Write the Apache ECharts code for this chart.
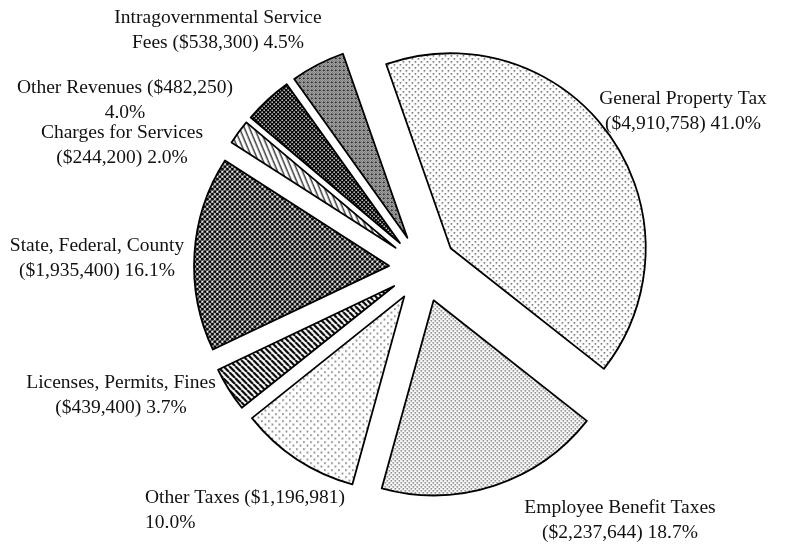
<!DOCTYPE html>
<html>
<head>
<meta charset="utf-8">
<script src="https://cdn.jsdelivr.net/npm/echarts@6/dist/echarts.min.js"></script>
<style>
html,body{margin:0;padding:0;background:#fff;}
#chart{width:786px;height:548px;}
</style>
</head>
<body>
<div id="chart"></div>
<script>
// ---- data ----
const categories = [
  'General Property Tax',
  'Employee Benefit Taxes',
  'Other Taxes',
  'Licenses, Permits, Fines',
  'State, Federal, County',
  'Charges for Services',
  'Other Revenues',
  'Intragovernmental Service\nFees'
];
const values = [4910758, 2237644, 1196981, 439400, 1935400, 244200, 482250, 538300];
// where the label wraps: 'name' = after the name, 'value' = after the amount
const wrapAfter = ['name', 'name', 'value', 'name', 'name', 'name', 'value', 'none'];

// ---- layout (not data) ----
const labelPos = [
  [683, 111, 'center'],
  [620, 520, 'center'],
  [145, 510, 'left'],
  [121, 395, 'center'],
  [97, 258, 'center'],
  [122, 145, 'center'],
  [125, 100, 'center'],
  [218, 30, 'center']
];

// ---- patterns ----
function tile(w, h, draw) {
  const c = document.createElement('canvas');
  c.width = w; c.height = h;
  const g = c.getContext('2d');
  g.fillStyle = '#fff'; g.fillRect(0, 0, w, h);
  g.fillStyle = '#000'; g.strokeStyle = '#000';
  draw(g, w, h);
  return { image: c, repeat: 'repeat' };
}
const sparseDots = tile(6, 6, g => { g.fillStyle = '#222'; g.fillRect(0, 0, 1.3, 1.3); g.fillRect(3, 3, 1.3, 1.3); });
const sparseDots2 = tile(7, 7, g => { g.fillStyle = '#222'; g.fillRect(0, 0, 1.3, 1.3); g.fillRect(3.5, 3.5, 1.3, 1.3); });
const denseDots = tile(4, 4, g => { g.fillStyle = '#222'; g.fillRect(0, 0, 1.2, 1.2); g.fillRect(2, 2, 1.2, 1.2); });
const backStripes = tile(6, 6, g => {
  g.lineWidth = 2.2;
  g.beginPath();
  g.moveTo(-6, 0); g.lineTo(0, 6);
  g.moveTo(0, 0); g.lineTo(6, 6);
  g.moveTo(6, 0); g.lineTo(12, 6);
  g.stroke();
});
const steepStripes = tile(5, 12, g => {
  g.lineWidth = 1.1;
  g.beginPath();
  g.moveTo(-5, 0); g.lineTo(0, 12);
  g.moveTo(0, 0); g.lineTo(5, 12);
  g.moveTo(5, 0); g.lineTo(10, 12);
  g.stroke();
});
const checkDots = tile(5, 5, g => {
  const r = 1.6;
  [[1.25,1.25],[3.75,3.75],[-1.25,3.75],[3.75,-1.25],[6.25,1.25],[1.25,6.25]].forEach(p => {
    g.beginPath(); g.arc(p[0], p[1], r, 0, Math.PI * 2); g.fill();
  });
});
const darkHoles = tile(4, 4, g => {
  g.fillRect(0, 0, 4, 4);
  g.fillStyle = '#fff';
  g.fillRect(0.5, 0.5, 1.4, 1.4);
  g.fillRect(2.5, 2.5, 1.4, 1.4);
});
const fineStipple = tile(4, 4, g => {
  g.fillStyle = '#222';
  [[0,0],[2,0],[1,1],[3,1],[0,2],[2,2],[1,3],[3,3],[3,0]].forEach(p => g.fillRect(p[0], p[1], 1, 1));
});
const fills = [sparseDots, denseDots, sparseDots2, backStripes, checkDots, steepStripes, darkHoles, fineStipple];

const total = values.reduce((a, b) => a + b, 0);
function money(v) { return '$' + v.toLocaleString('en-US'); }
function labelText(i) {
  const pct = (values[i] / total * 100).toFixed(1) + '%';
  const amt = '(' + money(values[i]) + ')';
  if (wrapAfter[i] === 'name') return categories[i] + '\n' + amt + ' ' + pct;
  if (wrapAfter[i] === 'value') return categories[i] + ' ' + amt + '\n' + pct;
  return categories[i] + ' ' + amt + ' ' + pct;
}

const FONT = "'Liberation Serif', 'Times New Roman', serif";

const chart = echarts.init(document.getElementById('chart'));
chart.setOption({
  animation: false,
  backgroundColor: '#fff',
  graphic: categories.map((n, i) => ({
    type: 'text',
    x: labelPos[i][0],
    y: labelPos[i][1],
    silent: true,
    style: {
      text: labelText(i),
      fill: '#111',
      fontFamily: FONT,
      fontSize: 19.5,
      lineHeight: 25,
      align: labelPos[i][2],
      verticalAlign: 'middle',
      textAlign: labelPos[i][2],
      textVerticalAlign: 'middle'
    }
  })),
  series: [{
    type: 'pie',
    center: [423, 268],
    radius: [0, 195],
    startAngle: 109.3,
    clockwise: true,
    selectedMode: 'multiple',
    selectedOffset: 34,
    avoidLabelOverlap: false,
    silent: true,
    itemStyle: { borderColor: '#000', borderWidth: 1.8 },
    select: { itemStyle: { borderColor: '#000', borderWidth: 1.8 } },
    emphasis: { disabled: true, scale: false },
    label: { show: false },
    labelLine: { show: false },
    data: categories.map((n, i) => ({
      name: n,
      value: values[i],
      selected: true,
      itemStyle: { color: fills[i] },
      select: { itemStyle: { color: fills[i] } }
    }))
  }]
});
</script>
</body>
</html>
